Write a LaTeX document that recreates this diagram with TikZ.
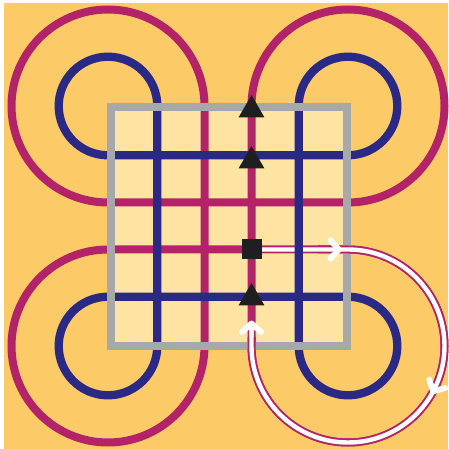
\documentclass[tikz,border=0pt]{standalone}
\usetikzlibrary{shapes.geometric}
\definecolor{bgor}{HTML}{FDCA68}
\definecolor{innerf}{HTML}{FFE3A3}
\definecolor{mag}{HTML}{B42267}
\definecolor{blu}{HTML}{2A2A86}
\definecolor{gry}{HTML}{A7A8AA}
\definecolor{blk}{HTML}{1F1F1F}
\begin{document}
\begin{tikzpicture}[x=1pt,y=1pt,
  magl/.style={draw=mag,line width=8pt},
  blul/.style={draw=blu,line width=8.3pt},
  whl/.style={draw=white,line width=4.4pt},
  grayframe/.style={draw=gry,line width=8pt},
  chev/.style={draw=white,line width=5.8pt,line cap=round,line join=round},
  tri/.style={regular polygon,regular polygon sides=3,minimum size=30pt,inner sep=0pt,outer sep=0pt,fill=blk},
  sqm/.style={rectangle,minimum size=20pt,inner sep=0pt,outer sep=0pt,fill=blk}]
\useasboundingbox (0,0) rectangle (448,449);
\fill[bgor] (4,0) rectangle (448,446);
\fill[innerf] (110.5,103) rectangle (347,342);
% magenta loop
\draw[magl] (204.5,343) arc[start angle=0,end angle=270,radius=96.5]
  -- (348,246.5) arc[start angle=-90,end angle=180,radius=96.5]
  -- (251.5,103) arc[start angle=180,end angle=450,radius=96.5]
  -- (108,199.5) arc[start angle=90,end angle=360,radius=96.5]
  -- cycle;
% white stripe of the path
\draw[whl] (252,199.5) -- (348,199.5) arc[start angle=90,end angle=-180,radius=96.5] -- (251.5,126);
% blue loop
\draw[blul] (157.3,343) arc[start angle=0,end angle=270,radius=49.3]
  -- (348,293.7) arc[start angle=-90,end angle=180,radius=49.3]
  -- (298.7,103) arc[start angle=180,end angle=450,radius=49.3]
  -- (108,152.3) arc[start angle=90,end angle=360,radius=49.3]
  -- cycle;
% gray frame
\draw[grayframe] (110.5,103) rectangle (347,342);
% path redrawn over the frame
\draw[magl] (318,199.5) -- (348,199.5) arc[start angle=90,end angle=-180,radius=96.5] -- (251.5,112);
\draw[whl] (318,199.5) -- (348,199.5) arc[start angle=90,end angle=-180,radius=96.5] -- (251.5,126);
% arrow heads
\draw[chev] (330.5,208.5) -- (339,199.5) -- (330.5,190.5);
\draw[chev] (242,117) -- (251.5,125.5) -- (261,117);
\begin{scope}[shift={(348,103)},rotate=-28]
  \draw[chev] (87.5,8.5) -- (96.5,0) -- (105.5,8.5);
\end{scope}
% markers
\node[tri] (t1) at (251.5,339) {};
\node[tri] (t2) at (251.5,288) {};
\node[tri] (t3) at (251.5,151) {};
\node[sqm] (s1) at (252,200) {};
\end{tikzpicture}
\end{document}
